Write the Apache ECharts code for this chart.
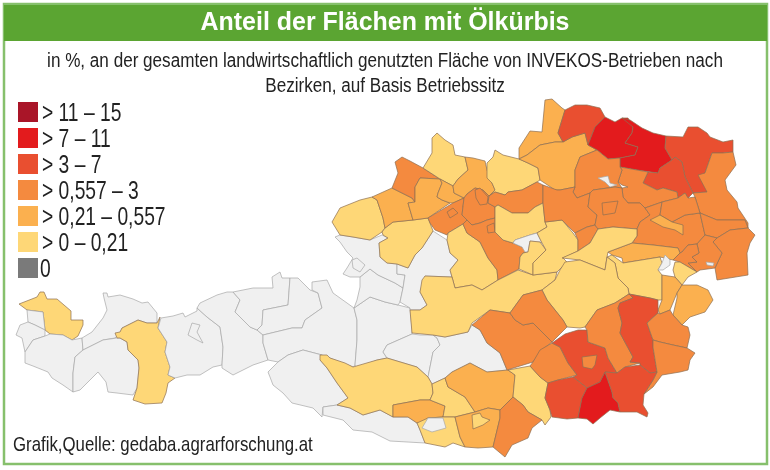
<!DOCTYPE html>
<html>
<head>
<meta charset="utf-8">
<title>Anteil der Flächen mit Ölkürbis</title>
<script src="https://cdn.jsdelivr.net/npm/echarts@6/dist/echarts.min.js"></script>
<style>
html, body { margin: 0; padding: 0; background: #fff; }
#chart { width: 770px; height: 470px; }
</style>
</head>
<body>
<div id="chart"></div>
<script>
var chartFont = '"Liberation Sans", sans-serif';

// share of oil pumpkin area in %, read from the class colours (districts not listed stay light grey)
var pumpkinDistricts = ['Waidhofen/Thaya', 'Hollabrunn', 'Leibnitz',
    'Horn', 'Mistelbach', 'Korneuburg', 'Graz-Umgebung', 'Weiz', 'Südoststeiermark', 'Deutschlandsberg',
    'Schärding', 'Wels-Land', 'Wels', 'Linz-Land', 'Linz', 'Steyr-Land', 'Steyr', 'Perg', 'Wiener Neustadt-Land',
    'Krems-Land', 'Tulln', 'Melk', 'Lilienfeld', 'St. Pölten-Land', 'St. Pölten', 'Wien-Umgebung', 'Baden',
    'Gänserndorf', 'Bruck/Leitha', 'Neusiedl', 'Hartberg', 'Güssing', 'Murtal', 'Leoben', 'Voitsberg', 'Graz',
    'Hartberg Süd', 'Völkermarkt', 'Wiener Neustadt-Land Nord',
    'Rohrbach Ost', 'Zwettl', 'Ried', 'Eferding', 'Urfahr', 'Braunau Süd', 'Mödling',
    'Oberwart', 'Mattersburg', 'Sankt Veit', 'Klagenfurt-Land', 'Spittal Ost', 'Gänserndorf Süd',
    'Bregenz', 'Imst', 'Spittal', 'Rohrbach', 'Braunau', 'Vöcklabruck', 'Freistadt', 'Amstetten',
    'Kirchdorf', 'Liezen', 'Scheibbs', 'Waidhofen/Ybbs Land', 'Bruck-Mürzzuschlag', 'Neunkirchen',
    'Lilienfeld Süd', 'Eisenstadt', 'Wolfsberg', 'Klagenfurt', 'Feldkirchen', 'Villach-Land'];
var pumpkinShares = [8.6, 9.3, 8.9,
    4.6, 5.2, 4.1, 5.4, 4.9, 5.6, 3.8,
    1.2, 1.4, 0.9, 1.1, 0.8, 0.7, 0.9, 1.0, 1.3,
    1.5, 1.6, 1.2, 0.7, 1.4, 1.1, 1.9, 1.7,
    2.1, 1.8, 1.9, 2.3, 2.0, 0.8, 0.9, 2.2, 1.6,
    2.4, 1.3, 1.5,
    0.4, 0.45, 0.35, 0.3, 0.5, 0.38, 0.33,
    0.33, 0.36, 0.44, 0.4, 0.3, 0.28,
    0.12, 0.09, 0.06, 0.15, 0.11, 0.08, 0.18, 0.14,
    0.1, 0.07, 0.16, 0.13, 0.17, 0.19,
    0.15, 0.2, 0.18, 0.12, 0.1, 0.09];

var classLabels = ['> 11 – 15', '> 7 – 11', '> 3 – 7', '> 0,557 – 3', '> 0,21 – 0,557', '> 0 – 0,21', '0'];
var classLower = [11, 7, 3, 0.557, 0.21, 0, null];
var classUpper = [15, 11, 7, 3, 0.557, 0.21, null];
var classColors = ['#a91528', '#e31b1d', '#e94f30', '#f48a3f', '#fbb04f', '#fed777', '#7a7a7a'];

// hand traced district outlines for registerMap, later entries are painted over earlier ones
var districtOutlines = {
    'Bregenz': '19,304 37,297 40,292 44,292 47,299 57,299 71,311 71,320 83,320 83,325 78,336 72,340 63,335 50,334 45,330 43,312 27,310',
    'Dornbirn': '27,310 43,312 45,330 35,325 28,322',
    'Feldkirch': '28,322 35,325 45,330 45,336 33,340 25,352 22,338 16,335 20,325',
    'Bludenz': '45,336 50,334 63,335 72,340 82,338 83,350 75,357 73,373 73,392 63,385 52,378 48,372 33,366 25,363 25,352 33,340',
    'Reutte': '103,293 107,293 108,297 120,295 133,299 142,303 148,302 157,313 157,323 147,323 138,320 122,328 120,333 115,338 103,340 83,350 82,338 92,332 103,318 107,310 104,298',
    'Landeck': '83,350 103,340 117,338 120,338 127,342 128,350 138,360 139,368 137,388 133,395 117,393 108,392 106,382 98,372 92,378 80,390 73,392 73,373 75,357',
    'Imst': '115,333 120,332 122,328 138,320 147,323 157,323 160,317 161,318 158,328 167,342 165,352 170,367 168,375 175,378 168,383 166,393 162,403 145,404 133,400 137,388 139,368 138,360 128,350 127,342 120,338 117,338',
    'Innsbruck-Land': '161,318 173,316 183,313 185,317 197,311 197,308 207,317 220,327 223,347 222,365 213,367 200,375 187,375 175,378 168,375 170,367 165,352 167,342 158,328',
    'Innsbruck': '188,335 192,323 200,325 197,332 203,343 197,340',
    'Schwaz': '197,308 200,303 217,295 227,292 233,292 240,300 235,312 250,327 257,330 263,335 263,343 268,360 253,365 233,375 222,368 222,365 223,347 220,327 207,317',
    'Kufstein': '233,292 253,288 273,288 272,277 280,272 282,278 290,278 288,305 263,310 262,325 257,330 250,327 235,312 240,300',
    'Kitzbühel': '290,278 298,278 310,290 318,293 322,308 305,320 302,328 292,328 263,335 257,330 262,325 263,310 288,305',
    'Zell am See': '312,290 312,282 327,280 333,293 354,308 357,320 357,340 355,365 353,367 335,360 322,355 303,350 288,355 278,362 268,360 263,343 263,335 292,328 302,328 305,320 322,308 318,293',
    'Sankt Johann': '354,308 370,297 385,302 398,305 410,308 412,330 412,334 387,345 383,352 387,358 377,360 357,368 355,365 357,340 357,320',
    'Hallein': '354,308 357,300 360,287 360,277 370,269 378,275 395,283 403,288 400,302 398,305 385,302 370,297',
    'Salzburg-Umgebung': '335,237 340,235 353,237 370,240 382,235 388,238 379,243 380,257 387,263 397,264 397,274 405,275 403,288 395,283 378,275 370,269 360,277 350,277 343,274 347,268 353,258 347,252 340,242',
    'Salzburg': '352,260 357,258 365,265 360,272 353,268',
    'Gmunden': '408,268 415,255 422,248 433,231 447,240 450,253 458,260 450,270 452,277 425,276 420,292 427,305 420,310 410,310 410,308 400,302 403,288 405,275 397,274 397,264',
    'Tamsweg': '387,345 412,334 420,335 433,335 437,338 440,345 433,352 428,377 417,367 387,358 383,352',
    'Lienz': '268,372 278,362 288,355 303,350 322,355 320,360 327,368 337,383 348,398 337,405 323,407 322,417 313,408 292,403 283,393 273,385 270,377',
    'Hermagor': '323,407 337,405 350,408 363,415 380,410 393,417 408,417 417,423 420,430 425,443 390,441 372,432 353,430 343,420 323,415',
    'Murau': '433,335 445,337 468,332 472,325 480,330 487,343 500,353 507,370 487,372 470,363 452,372 445,378 432,384 428,377 433,352 440,345 437,338',
    'Spittal': '320,355 327,355 330,358 345,363 353,367 377,360 387,358 417,367 428,377 432,384 433,393 430,400 420,400 393,405 393,417 380,410 363,415 350,408 337,405 348,398 337,383 327,368 320,360',
    'Spittal Ost': '393,405 420,400 430,400 445,406 443,417 428,418 420,423 417,423 408,417 393,417',
    'Feldkirchen': '430,400 433,393 432,384 445,378 448,387 465,397 475,412 455,417 443,417 445,406',
    'Villach-Land': '417,423 428,418 443,417 455,417 460,437 465,447 453,443 445,447 425,443 420,430',
    'Villach': '428,418 443,418 446,428 432,432 422,428',
    'Sankt Veit': '445,378 452,372 470,363 487,372 508,370 515,375 513,397 500,410 488,408 475,412 465,397 448,387',
    'Klagenfurt-Land': '455,417 475,412 488,408 500,410 500,418 493,447 478,448 465,447 460,437',
    'Klagenfurt': '472,415 480,413 482,417 490,420 483,425 473,429',
    'Wolfsberg': '508,370 530,366 540,377 548,383 545,398 550,410 551,417 545,425 542,420 528,412 523,405 513,397 515,375',
    'Völkermarkt': '513,397 523,405 528,412 542,420 532,428 528,438 512,445 505,457 493,447 500,418 500,410',
    'Braunau': '332,222 340,208 360,200 372,197 377,200 383,218 385,228 382,232 370,240 353,237 340,235',
    'Vöcklabruck': '388,238 379,243 380,257 387,263 397,264 408,268 415,255 422,248 433,231 430,223 428,218 413,220 393,222 385,228 382,232 383,235',
    'Braunau Süd': '372,197 392,188 412,198 415,202 408,203 413,220 393,222 385,228 383,218 377,200',
    'Schärding': '395,162 402,157 410,161 423,168 440,179 420,178 415,187 415,202 412,198 392,188 398,173',
    'Ried': '420,178 440,179 442,183 438,193 437,197 442,200 450,203 428,218 413,220 408,203 415,202 415,187',
    'Rohrbach': '432,138 437,133 445,140 453,145 455,155 465,157 468,170 458,179 453,186 440,179 423,168 432,153',
    'Eferding': '440,179 453,186 454,193 464,198 453,203 450,203 442,200 437,197 438,193 442,183',
    'Urfahr': '465,157 473,158 485,161 487,170 492,183 495,190 489,196 483,190 475,188 467,194 464,198 454,193 453,186 458,179 468,170',
    'Wels-Land': '428,218 453,203 464,198 462,215 467,220 463,224 448,233 447,235 435,230 430,223',
    'Wels': '447,212 453,208 458,213 450,218',
    'Linz-Land': '464,198 467,194 475,188 483,190 489,196 488,203 495,207 495,218 487,220 480,223 472,225 467,220 462,215',
    'Linz': '475,190 480,188 488,197 487,204 480,205 476,198',
    'Kirchdorf': '447,240 448,233 463,224 467,233 480,242 488,258 497,270 498,280 482,290 472,285 455,288 452,277 450,270 458,260 450,253',
    'Steyr-Land': '463,224 467,220 472,225 480,223 487,220 495,218 495,232 503,240 513,243 522,247 527,252 523,253 520,257 519,269 518,270 498,280 497,270 488,258 480,242 467,233',
    'Steyr': '487,226 494,223 495,232 488,233',
    'Freistadt': '487,163 493,157 495,150 503,155 519,159 528,163 538,168 540,180 537,182 522,190 508,192 505,195 495,192 489,196 495,190 492,183 487,178',
    'Perg': '489,196 495,192 505,195 508,192 522,190 537,182 543,185 543,203 535,207 528,213 512,213 498,205 495,207 488,203',
    'Amstetten': '495,207 498,205 512,213 528,213 535,207 543,203 545,222 547,227 537,233 530,235 515,240 513,243 503,240 495,232',
    'Waidhofen/Ybbs': '515,240 530,235 537,233 542,243 540,242 530,241 528,252 525,252 522,247 513,243',
    'Liezen': '422,280 425,276 452,277 455,288 472,285 482,290 498,280 518,270 519,269 533,275 557,272 555,280 542,290 523,295 510,313 490,310 472,323 468,332 445,337 433,335 412,333 410,310 420,310 427,305 420,292',
    'Waidhofen/Ybbs Land': '520,257 523,253 528,252 530,241 540,242 546,250 533,263 533,275 519,269',
    'Scheibbs': '537,233 547,227 545,222 562,220 573,233 578,240 578,251 563,258 567,262 557,272 533,275 533,263 546,250 542,243',
    'Rohrbach Ost': '519,159 519,148 530,131 542,132 545,100 552,99 562,108 565,110 558,133 563,142 555,142 540,145 527,155',
    'Zwettl': '519,159 527,155 540,145 555,142 563,142 572,137 585,133 588,145 597,150 580,157 575,170 575,187 560,190 555,190 540,180 538,168 528,163',
    'Horn': '565,110 575,105 587,105 600,108 605,117 595,127 588,145 585,133 572,137 563,142 558,133',
    'Waidhofen/Thaya': '605,117 615,122 622,118 628,118 633,127 632,133 625,143 638,147 635,155 620,158 608,159 597,150 588,145 595,127',
    'Hollabrunn': '622,118 630,120 642,128 653,133 666,136 665,148 672,160 660,168 658,173 637,170 620,167 620,158 635,155 638,147 625,143 632,133 633,127',
    'Mistelbach': '666,136 683,137 688,127 698,127 707,133 710,137 723,142 733,140 733,152 723,153 712,153 705,173 707,192 693,193 685,177 682,162 675,157 672,160 665,148',
    'Korneuburg': '675,157 682,162 685,177 693,193 688,198 685,193 678,198 677,192 663,188 657,190 643,183 648,172 658,173 660,168 672,160',
    'Gänserndorf': '712,153 723,153 733,152 736,165 725,180 727,190 737,202 738,208 748,223 748,228 745,220 717,220 700,213 695,197 693,193 707,192 698,175 705,173',
    'Tulln': '620,167 637,170 648,172 643,183 657,190 663,188 677,192 678,198 662,202 645,208 640,203 628,203 623,197 622,188 628,187 622,185 618,182 622,170',
    'Krems-Land': '575,170 580,157 597,150 608,159 620,158 620,167 622,170 618,182 622,188 615,187 593,190 590,193 577,198 573,192 575,187',
    'Krems': '598,178 608,176 610,183 617,185 610,187 605,182',
    'Melk': '543,185 557,190 560,190 575,187 573,192 577,198 590,193 588,207 597,215 595,225 587,227 575,233 562,220 545,222 543,203',
    'Lilienfeld': '575,233 587,227 595,225 598,229 590,243 578,251 578,240',
    'St. Pölten-Land': '590,193 593,190 615,187 622,188 623,197 628,203 640,203 645,208 650,215 640,222 637,229 613,227 598,229 595,225 597,215 588,207',
    'St. Pölten': '602,203 618,201 615,213 603,215',
    'Baden': '645,208 662,202 660,215 672,222 685,215 700,213 705,235 697,244 688,245 682,252 680,253 678,248 653,245 632,243 637,236 637,229 640,222 650,215',
    'Wien-Umgebung': '662,202 678,198 685,193 688,198 695,197 700,213 685,215 672,222 660,215',
    'Mödling': '650,220 660,215 672,222 683,225 683,235 675,230 663,227',
    'Bruck/Leitha': '700,213 717,220 745,220 748,228 730,230 717,238 705,235',
    'Neusiedl': '717,238 730,230 748,228 755,235 750,243 747,253 748,275 717,280 715,268 722,253 713,242',
    'Gänserndorf Süd': '608,252 632,243 653,245 678,248 680,253 673,260 660,257 623,263 622,258 612,255',
    'Lilienfeld Süd': '598,229 613,227 637,229 637,236 632,243 608,252 607,257 605,270 580,260 562,258 578,251 590,243',
    'Neunkirchen': '607,257 612,255 623,263 660,257 662,263 658,270 662,275 662,300 658,300 650,298 629,294 628,288 618,278 615,263',
    'Wiener Neustadt': '662,263 665,255 670,260 670,265 663,270 658,270',
    'Wiener Neustadt-Land Nord': '697,244 705,235 717,238 713,242 722,253 715,268 700,270 697,272 688,263 697,262 692,257 699,253',
    'Wiener Neustadt-Land': '680,253 682,252 688,245 697,244 699,253 692,257 697,262 688,263 697,272 680,262 673,260',
    'Rust': '706,262 714,263 713,266 707,265',
    'Eisenstadt': '675,262 680,262 697,272 688,277 682,285 675,277 673,270',
    'Mattersburg': '662,275 675,277 682,285 677,293 670,310 660,314 658,310 662,300',
    'Oberwart': '682,285 697,285 708,290 713,300 705,312 690,317 682,325 673,315 677,298 677,293',
    'Bruck-Mürzzuschlag': '542,290 555,280 560,270 565,262 580,260 605,270 607,257 615,263 618,278 628,288 629,294 615,303 597,310 585,327 580,328 567,327 563,320 547,300',
    'Murtal': '472,325 490,310 510,313 515,320 523,325 533,323 548,338 552,342 542,350 533,362 507,370 500,353 487,343 480,330',
    'Leoben': '510,313 523,295 542,290 547,300 563,320 567,327 552,342 533,323 523,325 515,320',
    'Voitsberg': '533,362 540,350 552,343 560,347 568,363 577,375 558,380 548,383 540,377 530,366',
    'Graz-Umgebung': '552,343 565,334 578,330 587,330 588,342 605,348 608,358 617,373 605,372 600,382 587,388 573,377 577,375 568,363 560,347',
    'Graz': '582,357 597,355 595,365 592,369 583,367',
    'Hartberg Süd': '585,327 597,310 615,303 629,294 633,298 620,303 618,308 622,323 620,333 633,357 630,362 640,363 625,367 617,373 608,358 605,348 588,342 587,330',
    'Weiz': '618,308 620,303 633,298 629,294 650,298 658,300 658,313 647,323 653,340 653,347 657,372 650,373 640,365 640,363 630,362 633,357 620,333 622,323',
    'Hartberg': '658,313 660,314 670,310 673,315 682,325 688,327 690,335 687,348 673,345 660,342 653,340 647,323',
    'Güssing': '653,340 660,342 673,345 687,348 695,353 690,360 688,370 680,372 662,375 653,387 644,394 653,380 657,372 653,347',
    'Deutschlandsberg': '558,380 573,377 587,388 582,398 578,418 567,419 552,417 550,410 545,398 548,383',
    'Leibnitz': '605,372 612,392 613,398 618,403 620,412 610,410 600,418 593,424 587,419 578,418 582,398 587,388 600,382',
    'Südoststeiermark': '605,372 617,373 625,367 640,365 650,373 657,372 653,380 644,394 643,405 648,413 647,417 637,412 620,412 618,403 613,398 612,392'
};

var mapFeatures = Object.keys(districtOutlines).map(function (name) {
    var ring = districtOutlines[name].split(' ').map(function (pair) {
        var xy = pair.split(',');
        return [+xy[0], -xy[1]];
    });
    ring.push(ring[0]);
    return { type: 'Feature', properties: { name: name }, geometry: { type: 'Polygon', coordinates: [ring] } };
});
echarts.registerMap('bezirke', { type: 'FeatureCollection', features: mapFeatures });

var mapData = pumpkinDistricts.map(function (name, i) {
    return { name: name, value: pumpkinShares[i], itemStyle: { borderColor: '#8c6f52' } };
});
var classPieces = classLabels.map(function (label, i) {
    if (classLower[i] === null) {
        return { value: 0, label: label, color: classColors[i] };
    }
    return { gt: classLower[i], lte: classUpper[i], label: label, color: classColors[i] };
});

// ECharts has no condensed font here, so the texts are real text squeezed with scaleX
function squeezedText(content, x, y, size, scaleX, color, align, weight) {
    return {
        type: 'text', silent: true, x: x, y: y, scaleX: scaleX, z: 5,
        style: {
            text: content, fill: color, align: align, verticalAlign: 'middle',
            font: (weight || 'normal') + ' ' + size + 'px ' + chartFont
        }
    };
}

var frameAndTexts = [
    { type: 'rect', silent: true, z: -1, shape: { x: 4, y: 4, width: 763, height: 460 },
        style: { fill: '#fff', stroke: '#86c06c', lineWidth: 2.5 } },
    { type: 'rect', silent: true, z: -1, shape: { x: 4, y: 5, width: 763, height: 36 },
        style: { fill: '#5ba532' } },
    squeezedText('Anteil der Flächen mit Ölkürbis', 385, 23, 26, 0.96, '#fff', 'center', 'bold'),
    squeezedText('in %, an der gesamten landwirtschaftlich genutzten Fläche von INVEKOS-Betrieben nach', 385, 61, 20, 0.855, '#222', 'center'),
    squeezedText('Bezirken, auf Basis Betriebssitz', 385, 86, 20, 0.855, '#222', 'center'),
    squeezedText('Grafik,Quelle: gedaba.agrarforschung.at', 13, 445, 21, 0.8, '#222', 'left')
];
classLabels.forEach(function (label, i) {
    frameAndTexts.push(squeezedText(label, i === 6 ? 40 : 42, 114 + 26 * i, 26, 0.74, '#222', 'left'));
});

var chart = echarts.init(document.getElementById('chart'));
chart.setOption({
    animation: false,
    backgroundColor: '#fff',
    graphic: frameAndTexts,
    visualMap: {
        type: 'piecewise',
        seriesIndex: 0,
        left: 18,
        top: 102,
        orient: 'vertical',
        align: 'left',
        itemSymbol: 'rect',
        itemWidth: 20,
        itemHeight: 20,
        itemGap: 6,
        showLabel: false,
        selectedMode: false,
        hoverLink: false,
        padding: 0,
        pieces: classPieces
    },
    series: [{
        type: 'map',
        map: 'bezirke',
        silent: true,
        roam: false,
        aspectScale: 1,
        left: 0,
        top: 0,
        width: 770,
        height: 470,
        boundingCoords: [[0, 0], [770, -470]],
        label: { show: false },
        emphasis: { disabled: true },
        select: { disabled: true },
        itemStyle: { areaColor: '#f0f0f0', borderColor: '#a8a8a8', borderWidth: 0.7 },
        data: mapData
    }]
});
</script>
</body>
</html>
